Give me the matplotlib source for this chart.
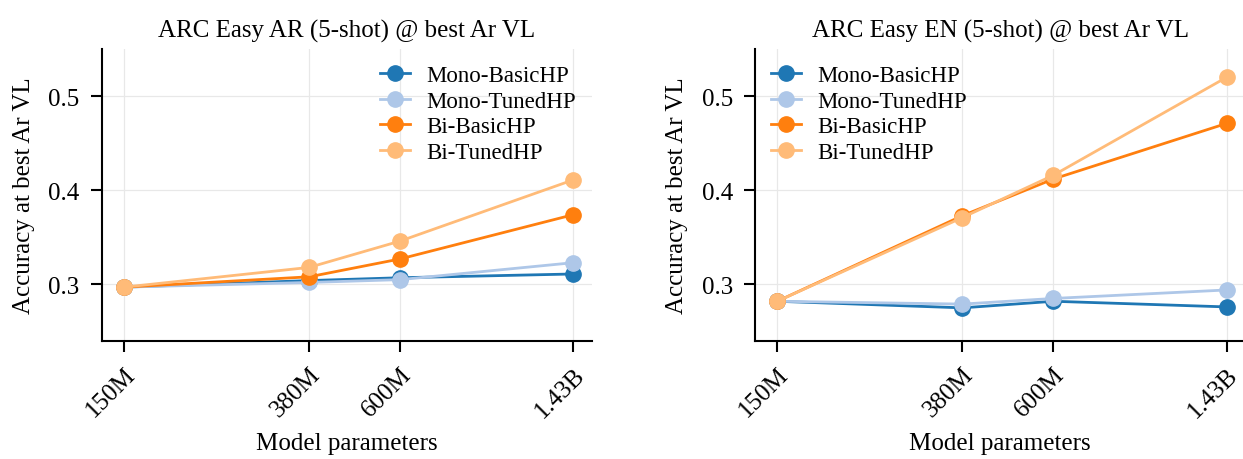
import numpy as np
import matplotlib.pyplot as plt

plt.rcParams['font.family'] = ['Liberation Serif', 'DejaVu Serif']
plt.rcParams['font.size'] = 18

params = [150e6, 380e6, 600e6, 1.43e9]
param_labels = ['150M', '380M', '600M', '1.43B']
series_names = ['Mono-BasicHP', 'Mono-TunedHP', 'Bi-BasicHP', 'Bi-TunedHP']
colors = ['#1f77b4', '#aec7e8', '#ff7f0e', '#ffbb78']

# accuracy at best Arabic validation loss
arc_ar = {
    'Mono-BasicHP': [0.297, 0.304, 0.307, 0.311],
    'Mono-TunedHP': [0.297, 0.302, 0.305, 0.323],
    'Bi-BasicHP':   [0.297, 0.308, 0.327, 0.374],
    'Bi-TunedHP':   [0.297, 0.318, 0.346, 0.411],
}
arc_en = {
    'Mono-BasicHP': [0.282, 0.275, 0.282, 0.276],
    'Mono-TunedHP': [0.282, 0.279, 0.285, 0.294],
    'Bi-BasicHP':   [0.282, 0.373, 0.412, 0.471],
    'Bi-TunedHP':   [0.282, 0.371, 0.416, 0.520],
}

fig, axes = plt.subplots(1, 2, figsize=(12.43, 4.6), dpi=100)
fig.subplots_adjust(left=0.082, right=1.0016, top=0.891, bottom=0.257, wspace=0.334)

panels = [
    (axes[0], arc_ar, 'ARC Easy AR (5-shot) @ best Ar VL', 'upper right'),
    (axes[1], arc_en, 'ARC Easy EN (5-shot) @ best Ar VL', 'upper left'),
]

for ax, data, title, loc in panels:
    for name, c in zip(series_names, colors):
        ax.plot(params, data[name], '-o', color=c, lw=2, ms=11, label=name)
    ax.set_xscale('log')
    ax.set_xticks(params)
    ax.set_xticklabels(param_labels, rotation=45, ha='right', rotation_mode='anchor')
    ax.minorticks_off()
    ax.set_xlim(1.343e8, 1.569e9)
    ax.set_ylim(0.24, 0.55)
    ax.set_yticks([0.3, 0.4, 0.5])
    ax.set_title(title, fontsize=18, pad=9)
    ax.set_xlabel('Model parameters', labelpad=8)
    ax.set_ylabel('Accuracy at best Ar VL', labelpad=10)
    ax.grid(True, color='#e8e8e8', lw=0.9)
    ax.set_axisbelow(True)
    for s in ['top', 'right']:
        ax.spines[s].set_visible(False)
    for s in ['left', 'bottom']:
        ax.spines[s].set_linewidth(1.5)
    ax.tick_params(length=8, width=1.5, pad=8)
    ax.legend(loc=loc, frameon=False, fontsize=16.5, handlelength=1.3,
              handletextpad=0.7, labelspacing=0.2, borderaxespad=0.3)

plt.savefig('out.png', dpi=100)
